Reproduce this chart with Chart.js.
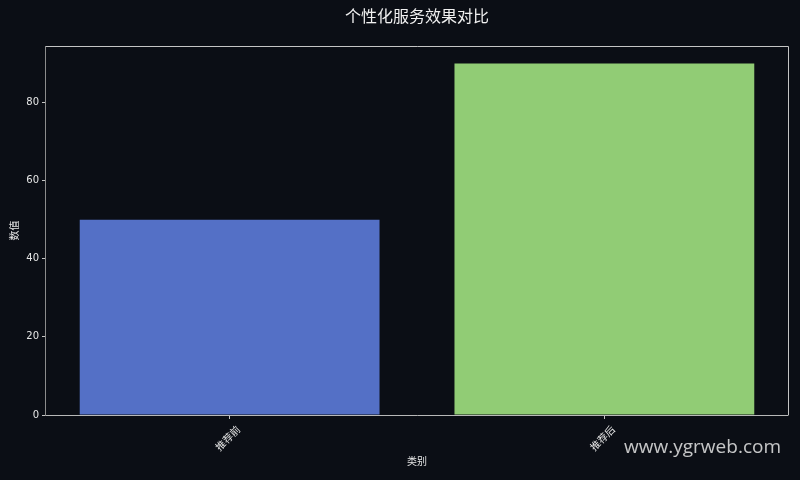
<!DOCTYPE html>
<html>
<head>
<meta charset="utf-8">
<script src="https://cdn.jsdelivr.net/npm/chart.js@4"></script>
<style>
  html,body{margin:0;padding:0;background:#0b0e15;}
  #wrap{width:800px;height:480px;position:relative;}
</style>
</head>
<body>
<div id="wrap"><canvas id="c"></canvas></div>
<script>
const categories = ['推荐前', '推荐后'];
const values = [50, 90];
const barColors = ['#5470c6', '#91cc75'];
const yTicks = [0, 20, 40, 60, 80];
const titleText = '个性化服务效果对比';
const xTitle = '类别';
const yTitle = '数值';
const watermark = 'www.ygrweb.com';

const FONT = '"DejaVu Sans", "Noto Sans CJK SC", sans-serif';
const TXT = '#e6e6e6';

const decor = {
  id: 'decor',
  beforeDraw(chart) {
    const ctx = chart.ctx;
    ctx.save();
    ctx.fillStyle = '#0b0e15';
    ctx.fillRect(0, 0, chart.width, chart.height);
    ctx.restore();
  },
  afterDraw(chart) {
    const ctx = chart.ctx;
    const a = chart.chartArea;
    const xs = chart.scales.x;
    ctx.save();
    // frame
    ctx.strokeStyle = '#c4c4c4';
    ctx.lineWidth = 1;
    ctx.beginPath();
    ctx.moveTo(a.left, a.top + 0.5);
    ctx.lineTo(a.right + 0.5, a.top + 0.5);
    ctx.lineTo(a.right + 0.5, a.bottom);
    ctx.stroke();
    ctx.strokeStyle = '#b8b8b8';
    ctx.beginPath();
    ctx.moveTo(a.left, a.bottom + 0.5);
    ctx.lineTo(a.right + 0.5, a.bottom + 0.5);
    ctx.stroke();
    ctx.strokeStyle = '#8c8c8c';
    ctx.beginPath();
    ctx.moveTo(a.left - 0.5, a.top);
    ctx.lineTo(a.left - 0.5, a.bottom + 1);
    ctx.stroke();
    // title
    ctx.fillStyle = '#f0f0f0';
    ctx.font = '16px ' + FONT;
    ctx.textAlign = 'center';
    ctx.textBaseline = 'middle';
    ctx.fillText(titleText, (a.left + a.right) / 2, 18);
    // x category labels rotated 45
    ctx.font = '10px ' + FONT;
    ctx.fillStyle = TXT;
    categories.forEach((c, i) => {
      const px = xs.getPixelForValue(i);
      ctx.save();
      ctx.translate(px - 1, a.bottom + 24);
      ctx.rotate(-Math.PI / 4);
      ctx.textAlign = 'center';
      ctx.textBaseline = 'middle';
      ctx.fillText(c, 0, 0);
      ctx.restore();
    });
    // axis titles
    ctx.font = '10px ' + FONT;
    ctx.textAlign = 'center';
    ctx.textBaseline = 'middle';
    ctx.fillText(xTitle, (a.left + a.right) / 2, 462);
    ctx.save();
    ctx.translate(15, (a.top + a.bottom) / 2);
    ctx.rotate(-Math.PI / 2);
    ctx.fillText(yTitle, 0, 0);
    ctx.restore();
    // watermark
    ctx.font = '19px "Open Sans", "Noto Sans", sans-serif';
    ctx.fillStyle = 'rgba(230,230,230,0.85)';
    ctx.textAlign = 'right';
    ctx.textBaseline = 'middle';
    ctx.fillText(watermark, 781, 448);
    ctx.restore();
  }
};

new Chart(document.getElementById('c'), {
  type: 'bar',
  data: {
    datasets: [{
      data: categories.map((c, i) => ({ x: i, y: values[i] })),
      backgroundColor: barColors,
      borderWidth: 0,
      barPercentage: 1,
      categoryPercentage: 0.8
    }]
  },
  options: {
    responsive: true,
    maintainAspectRatio: false,
    animation: false,
    layout: { padding: { top: 46, right: 12, bottom: 0, left: 0 } },
    plugins: { legend: { display: false }, tooltip: { enabled: false }, title: { display: false } },
    scales: {
      x: {
        type: 'linear',
        offset: false,
        min: -0.49,
        max: 1.49,
        afterBuildTicks(s) { s.ticks = categories.map((c, i) => ({ value: i })); },
        afterFit(s) { s.height = 65; },
        ticks: { callback: () => '', maxRotation: 0, autoSkip: false },
        grid: { display: true, offset: false, drawOnChartArea: false, drawTicks: true, tickLength: 4, color: '#c4c4c4' },
        border: { display: false }
      },
      y: {
        min: 0,
        max: 94.5,
        afterBuildTicks(s) { s.ticks = yTicks.map(v => ({ value: v })); },
        afterFit(s) { s.width = 46; },
        ticks: { color: TXT, font: { family: FONT, size: 10 }, padding: 3 },
        grid: { display: true, drawOnChartArea: false, drawTicks: true, tickLength: 4, color: '#c4c4c4' },
        border: { display: false }
      }
    }
  },
  plugins: [decor]
});
</script>
</body>
</html>
